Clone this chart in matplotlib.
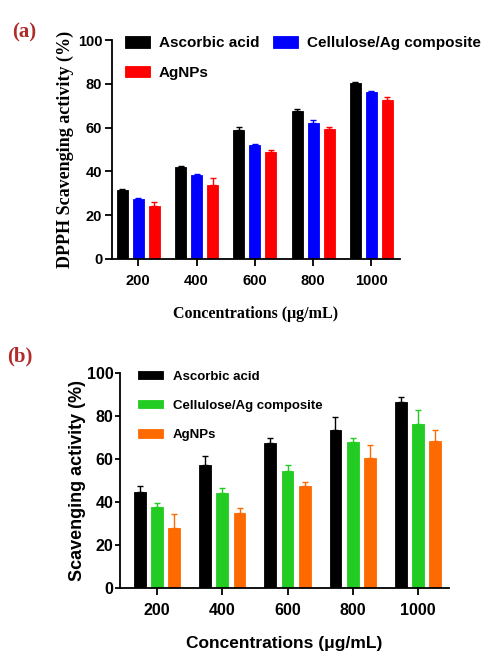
import matplotlib
matplotlib.use("Agg")
import matplotlib.pyplot as plt
import numpy as np

concentrations = ["200", "400", "600", "800", "1000"]
series_names = ["Ascorbic acid", "Cellulose/Ag composite", "AgNPs"]

# Panel (a)
a_ascorbic = [31.4, 42.0, 58.8, 67.4, 80.2]
a_ascorbic_err = [0.6, 0.6, 1.5, 1.2, 0.8]
a_cellulose = [27.2, 38.5, 52.2, 62.1, 76.4]
a_cellulose_err = [0.6, 0.4, 0.5, 1.4, 0.5]
a_agnps = [24.4, 33.8, 49.0, 59.4, 72.6]
a_agnps_err = [1.5, 3.0, 1.0, 0.8, 1.2]

# Panel (b)
b_ascorbic = [44.8, 57.1, 67.5, 73.7, 86.3]
b_ascorbic_err = [2.6, 4.5, 2.2, 5.8, 2.7]
b_cellulose = [37.8, 44.2, 54.6, 67.7, 76.2]
b_cellulose_err = [1.9, 2.1, 2.5, 2.0, 6.4]
b_agnps = [28.0, 35.0, 47.4, 60.7, 68.4]
b_agnps_err = [6.2, 2.0, 2.0, 5.6, 4.9]

yticks = [0, 20, 40, 60, 80, 100]

fig = plt.figure(figsize=(4.88, 6.53), dpi=100)

def draw(ax, vals, errs, colors, width, offset, xlim, tsize, ylen, ypad):
    x = np.arange(len(concentrations))
    handles = []
    for i, (v, e, c) in enumerate(zip(vals, errs, colors)):
        pos = x + (i - 1) * offset
        b = ax.bar(pos, v, width=width, color=c, edgecolor=c, linewidth=0.6, zorder=2)
        ax.errorbar(pos, v, yerr=[np.zeros(len(e)), e], fmt="none", ecolor=c,
                    elinewidth=1.0, capsize=2.5, capthick=1.0, zorder=3)
        handles.append(b)
    ax.set_xticks(x)
    ax.set_xticklabels(concentrations)
    ax.set_yticks(yticks)
    ax.set_ylim(0, 100)
    ax.set_xlim(*xlim)
    for s in ["top", "right"]:
        ax.spines[s].set_visible(False)
    for s in ["left", "bottom"]:
        ax.spines[s].set_linewidth(1.3)
    ax.tick_params(axis="both", width=1.3, labelsize=tsize)
    ax.tick_params(axis="x", pad=6, length=5)
    ax.tick_params(axis="y", pad=ypad, length=ylen)
    for lab in ax.get_xticklabels() + ax.get_yticklabels():
        lab.set_fontweight("bold")
        lab.set_family("Liberation Sans")
    return handles

# Panel (a)
axa = fig.add_axes([0.2295, 0.6034, 0.5902, 0.3353])
ha = draw(axa, [a_ascorbic, a_cellulose, a_agnps],
          [a_ascorbic_err, a_cellulose_err, a_agnps_err],
          ["#000000", "#0000ff", "#ff0000"], 0.19, 0.275, (-0.45, 4.49), 10.5, 5, 2)
axa.set_ylabel("DPPH Scavenging activity (%)", family="Liberation Serif",
               fontweight="bold", fontsize=13, labelpad=2.5)
axa.set_xlabel("Concentrations (μg/mL)", family="Liberation Serif",
               fontweight="bold", fontsize=11.5, labelpad=13)
lega = axa.legend([ha[0], ha[2], ha[1]], [series_names[0], series_names[2], series_names[1]],
                  ncol=2, loc="upper left", bbox_to_anchor=(0.025, 1.045), frameon=False,
                  prop={"family": "Liberation Sans", "weight": "bold", "size": 11},
                  handlelength=1.6, handleheight=0.8, columnspacing=0.9,
                  labelspacing=1.0, handletextpad=0.6, borderaxespad=0)

# Panel (b)
axb = fig.add_axes([0.2459, 0.0995, 0.6742, 0.3293])
hb = draw(axb, [b_ascorbic, b_cellulose, b_agnps],
          [b_ascorbic_err, b_cellulose_err, b_agnps_err],
          ["#000000", "#22cc22", "#ff6a00"], 0.18, 0.265, (-0.567, 4.475), 11.5, 3.5, 1)
axb.set_ylabel("Scavenging activity (%)", family="Liberation Sans",
               fontweight="bold", fontsize=13, labelpad=1)
axb.set_xlabel("Concentrations (μg/mL)", family="Liberation Sans",
               fontweight="bold", fontsize=12.5, labelpad=13)
legb = axb.legend(hb, series_names, ncol=1, loc="upper left",
                  bbox_to_anchor=(0.038, 1.035), frameon=False,
                  prop={"family": "Liberation Sans", "weight": "bold", "size": 9.5},
                  handlelength=1.9, handleheight=0.6, labelspacing=1.3,
                  handletextpad=0.75, borderaxespad=0)

fig.text(0.025, 0.95, "(a)", family="Liberation Serif", fontweight="bold",
         fontsize=15, color="#b22b2b", va="center", ha="left")
fig.text(0.015, 0.454, "(b)", family="Liberation Serif", fontweight="bold",
         fontsize=15, color="#b22b2b", va="center", ha="left")

fig.savefig("out.png", dpi=100)
